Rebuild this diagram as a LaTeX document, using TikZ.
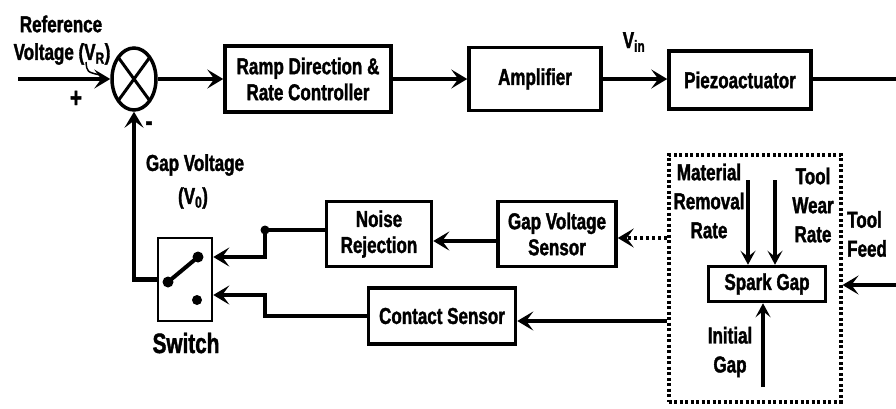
\documentclass[tikz,border=0pt]{standalone}
\usepackage{fontspec}
\setmainfont[FakeStretch=0.74, BoldFeatures={FakeBold=1.5}]{Liberation Sans}
\usetikzlibrary{arrows.meta,shapes.geometric}
\begin{document}
\begin{tikzpicture}[x=1pt,y=-1pt, line join=miter,
  blk/.style={draw, line width=3.5pt, align=center, font=\bfseries\fontsize{23}{26}\selectfont, inner sep=0pt},
  lbl/.style={align=center, font=\bfseries\fontsize{23}{29}\selectfont, inner sep=0pt},
  ln/.style={line width=4.5pt},
  arr/.style={line width=4.5pt, -{Stealth[length=16pt,width=19pt,inset=7pt]}},
  varr/.style={line width=3.5pt, -{Stealth[length=14pt,width=15pt,inset=6pt]}},
]
\useasboundingbox (0,0) rectangle (896,408);
% top row
\node[draw, ellipse, line width=3.5pt, minimum width=44pt, minimum height=62pt, inner sep=0pt] (sum) at (134,79) {};
\draw[line width=3pt] (sum.center) ++(-16,-22) -- ++(32,44);
\draw[line width=3pt] (sum.center) ++(16,-22) -- ++(-32,44);
\node[blk, minimum width=166pt, minimum height=66pt] (ramp) at (308,79) {Ramp Direction \&\\Rate Controller};
\node[blk, minimum width=132pt, minimum height=63pt] (amp) at (535,79) {Amplifier};
\node[blk, minimum width=142pt, minimum height=58pt] (piezo) at (740,80) {Piezoactuator};
\coordinate (in) at (18,79);
\coordinate (out) at (896,79);
\draw[arr] (in) -- (in -| sum.west);
\draw[arr] (sum.east) -- (ramp.west);
\draw[arr] (ramp.east) -- (amp.west);
\draw[arr] (amp.east) -- (amp.east -| piezo.west);
\draw[ln] (amp.east -| piezo.east) -- (out);
\node[lbl] (reflbl1) at (61,24) {Reference};
\node[lbl] (reflbl2) at (62,54) {Voltage (V\textsubscript{R})};
\draw[line width=1.5pt] (86,62) .. controls (87,72) .. (100,75);
\node[lbl, font=\bfseries\fontsize{28}{30}\selectfont] (plus) at (76,99) {+};
\node[lbl, font=\bfseries\fontsize{28}{30}\selectfont] (minus) at (149,126) {-};
\node[lbl] (vin) at (634,42) {V\textsubscript{in}};
% switch
\node[draw, line width=2.5pt, minimum width=54pt, minimum height=83pt] (sw) at (185,279.5) {};
\node[lbl, font=\bfseries\fontsize{28}{30}\selectfont] (swl) at (186,343) {Switch};
\draw[line width=4pt] (168,282) -- (198,257);
\fill (168,282) circle (5.5pt);
\fill (198,257) circle (5.5pt);
\fill (197,300) circle (5pt);
\draw[arr] (sw.west) -| (sum.south);
\node[lbl] (gvlbl1) at (195,165) {Gap Voltage};
\node[lbl] (gvlbl2) at (193,198) {(V\textsubscript{0})};
% sensors
\node[blk, minimum width=105pt, minimum height=65pt] (nr) at (379,234) {Noise\\Rejection};
\node[blk, minimum width=118pt, minimum height=65pt] (gvs) at (557,234) {Gap Voltage\\Sensor};
\node[blk, minimum width=147pt, minimum height=56pt] (cs) at (442,316) {Contact Sensor};
\coordinate (k1) at (265,257);
\coordinate (k2) at (265,295);
\draw[arr] ([yshift=4pt]nr.west) -| (k1) -- (k1 -| sw.east);
\fill (265,230) circle (4.5pt);
\draw[arr] (cs.west) -| (k2) -- (k2 -| sw.east);
\draw[arr] ([yshift=-7pt]gvs.west) -- ([yshift=-7pt]nr.east);
% plant
\node[draw, line width=4pt, dash pattern=on 3pt off 2.5pt, minimum width=172pt, minimum height=247pt] (plant) at (754.5,278) {};
\node[blk, minimum width=117pt, minimum height=35pt] (sg) at (767,284) {Spark Gap};
\coordinate (g1) at ([yshift=-4pt]gvs.east);
\draw[arr, dash pattern=on 3pt off 3pt] (g1 -| plant.west) -- (g1);
\coordinate (c1) at ([yshift=-5pt]cs.east);
\draw[arr] (c1 -| plant.west) -- (c1);
\coordinate (tf) at (896,285);
\draw[arr] (tf) -- (tf -| plant.east);
\coordinate (m1) at (748,180);
\coordinate (t1) at (775,180);
\coordinate (i1) at (763,387);
\draw[varr] (m1) -- (m1 |- sg.north);
\draw[varr] (t1) -- (t1 |- sg.north);
\draw[varr] (i1) -- (i1 |- sg.south);
\node[lbl] (mrr) at (709,201) {Material\\Removal\\Rate};
\node[lbl] (twr) at (813,205) {Tool\\Wear\\Rate};
\node[lbl, align=left, anchor=west] (tfl) at (847,234) {Tool\\Feed};
\node[lbl] (ig) at (730,352) {Initial\\Gap};
\end{tikzpicture}
\end{document}
